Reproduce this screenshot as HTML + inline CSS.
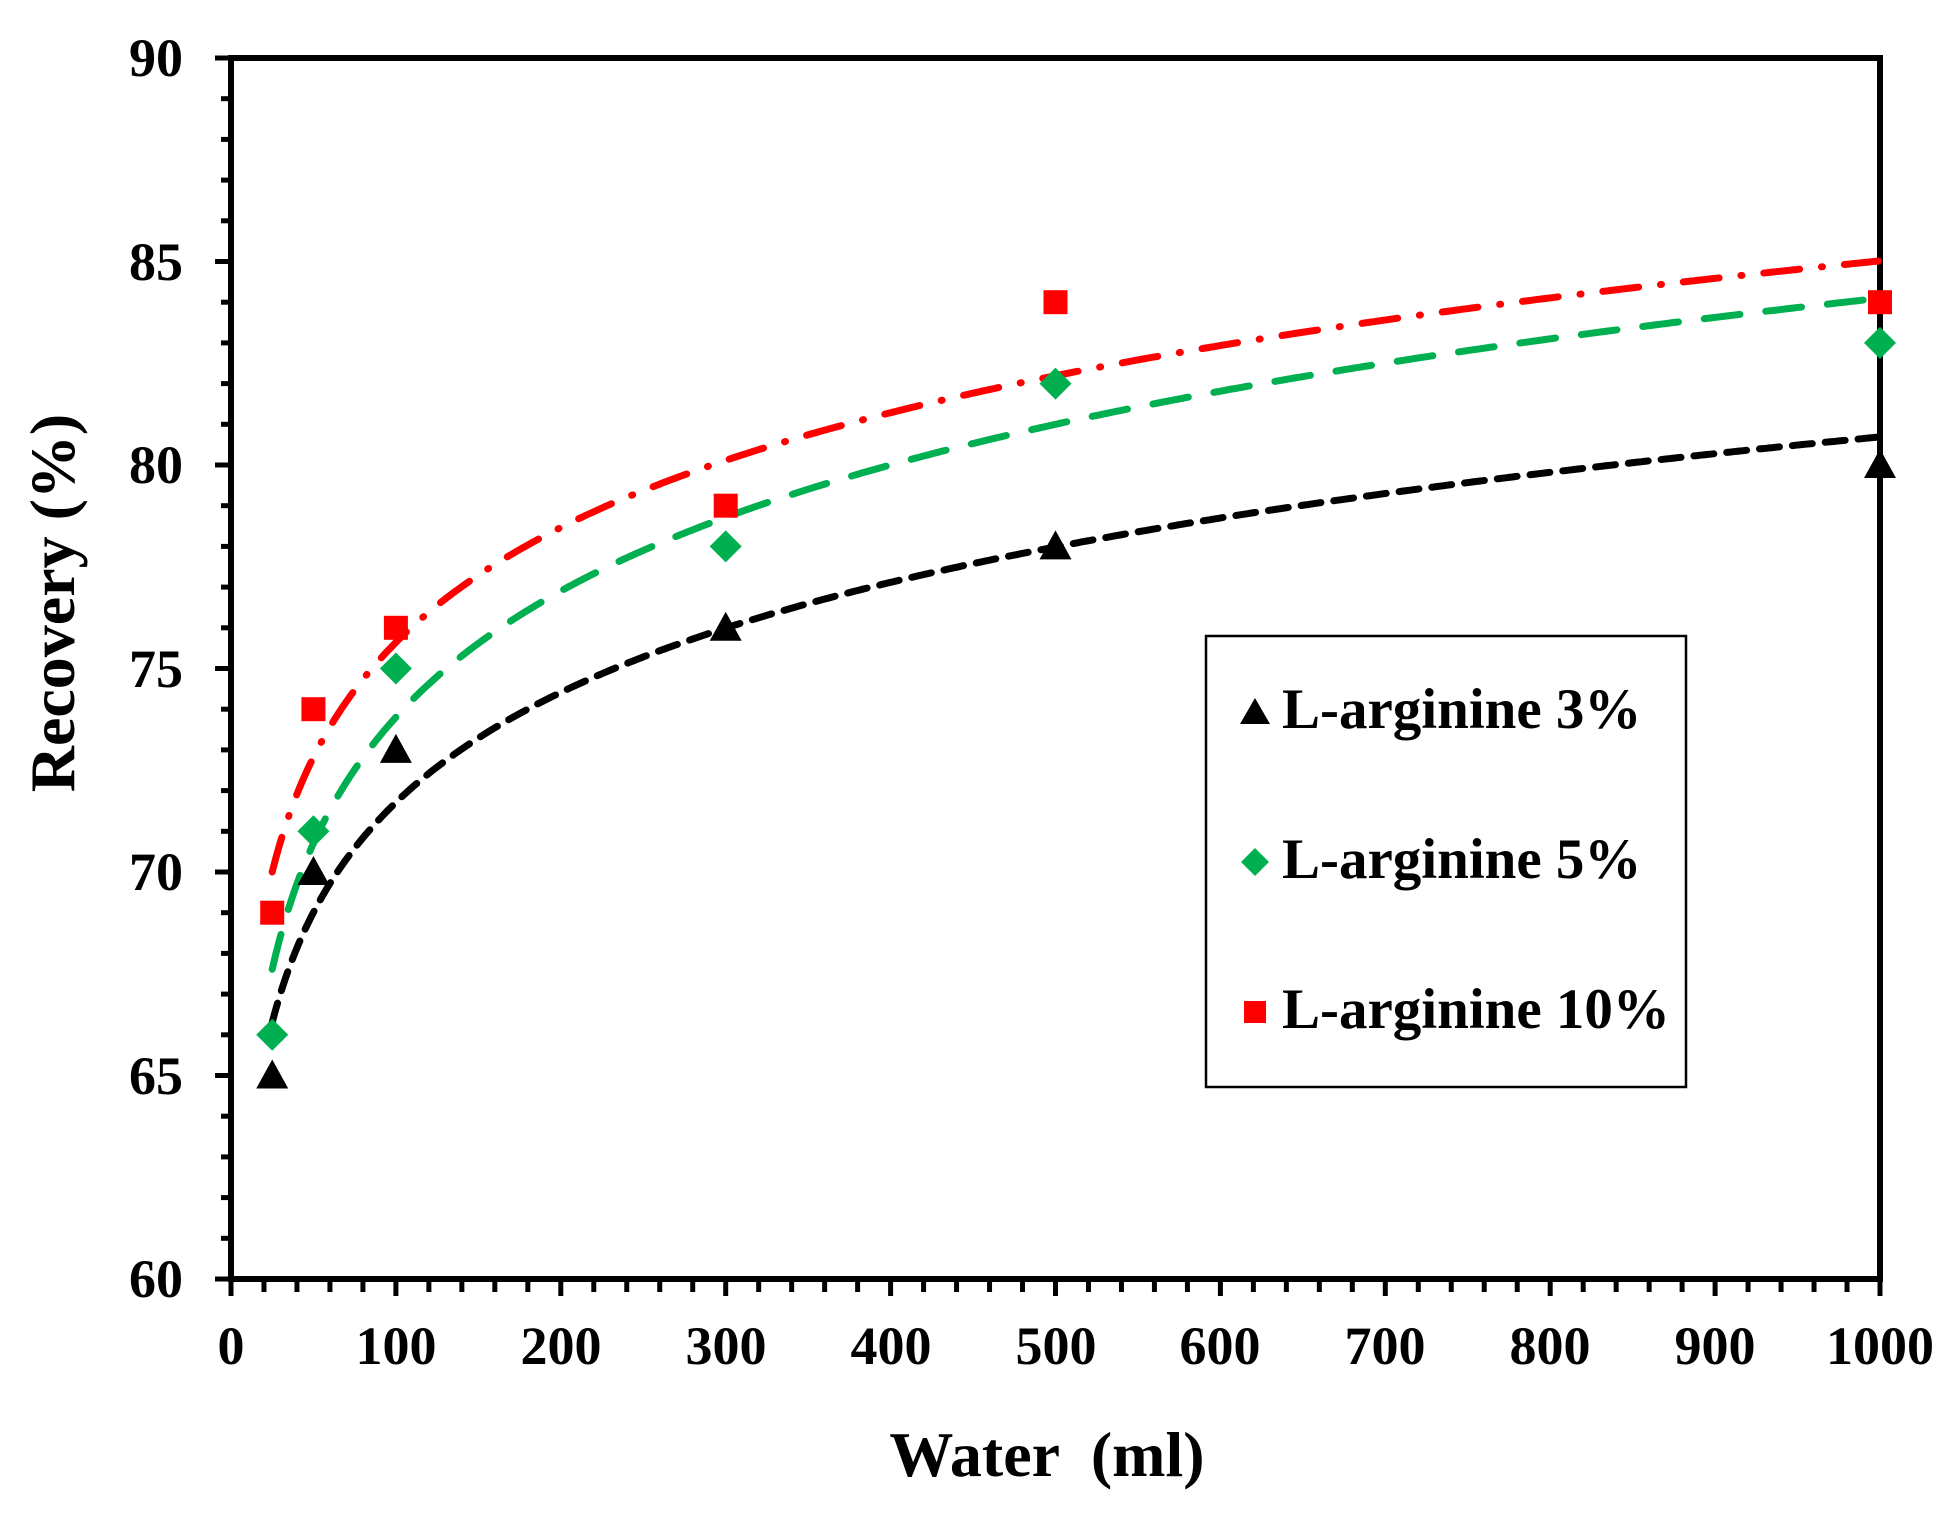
<!DOCTYPE html>
<html><head><meta charset="utf-8"><style>
html,body{margin:0;padding:0;background:#fff;}
svg{display:block;}
text{font-family:"Liberation Serif",serif;font-weight:bold;fill:#000;}
</style></head><body>
<svg id="s" width="1948" height="1521" viewBox="0 0 1948 1521" xmlns="http://www.w3.org/2000/svg">
<g id="ticks" stroke="#000" stroke-width="5"></g>
<rect x="231" y="58" width="1649" height="1221" fill="none" stroke="#000" stroke-width="6"/>
<g font-size="54" text-anchor="end">
<text x="183" y="76">90</text>
<text x="183" y="280">85</text>
<text x="183" y="483">80</text>
<text x="183" y="687">75</text>
<text x="183" y="890">70</text>
<text x="183" y="1094">65</text>
<text x="183" y="1297">60</text>
</g>
<g font-size="54" text-anchor="middle">
<text x="231" y="1364">0</text>
<text x="396" y="1364">100</text>
<text x="561" y="1364">200</text>
<text x="726" y="1364">300</text>
<text x="891" y="1364">400</text>
<text x="1056" y="1364">500</text>
<text x="1220" y="1364">600</text>
<text x="1385" y="1364">700</text>
<text x="1550" y="1364">800</text>
<text x="1715" y="1364">900</text>
<text x="1880" y="1364">1000</text>
</g>
<text x="1047" y="1476" font-size="64" text-anchor="middle" xml:space="preserve">Water  (ml)</text>
<text x="0" y="0" font-size="64" text-anchor="middle" transform="translate(74,603) rotate(-90)">Recovery (%)</text>
<path id="cb" fill="none" stroke="#000" stroke-width="7" stroke-dasharray="20 13" stroke-linecap="round"/>
<path id="cg" fill="none" stroke="#00b050" stroke-width="7" stroke-dasharray="36 26" stroke-linecap="round"/>
<path id="cr" fill="none" stroke="#ff0000" stroke-width="7" stroke-dasharray="36 22 1 22" stroke-linecap="round"/>
<g id="pts"></g>
<rect x="1206" y="636" width="480" height="451" fill="#fff" stroke="#000" stroke-width="2.5"/>
<polygon points="1255,698 1270,724 1240,724" fill="#000"/>
<text x="1282" y="728" font-size="57">L-arginine 3%</text>
<polygon points="1255,848 1269,862 1255,876 1241,862" fill="#00b050"/>
<text x="1282" y="878" font-size="57">L-arginine 5%</text>
<rect x="1244" y="1001" width="22" height="22" fill="#ff0000"/>
<text x="1282" y="1028" font-size="57">L-arginine 10%</text>
</svg>
<script>
var X=function(v){return 231+v*1.649}, Y=function(v){return 58+(90-v)*40.7};
var t='';
for(var v=60;v<=90;v++){var L=(v%5==0)?16:10;t+='<line x1="'+(231-L)+'" y1="'+Y(v)+'" x2="231" y2="'+Y(v)+'"/>';}
for(var m=0;m<=1000;m+=20){var L=(m%100==0)?17:13;t+='<line x1="'+X(m)+'" y1="1279" x2="'+X(m)+'" y2="'+(1279+L)+'"/>';}
document.getElementById('ticks').innerHTML=t;
function curve(id,a,b){var d='';for(var x=25;x<=1000;x+=2){d+=(x==25?'M':'L')+X(x).toFixed(1)+','+Y(a*Math.log(x)+b).toFixed(1);}document.getElementById(id).setAttribute('d',d);}
curve('cb',3.9,53.75);curve('cg',4.47,53.22);curve('cr',4.07,56.9);
var xs=[25,50,100,300,500,1000];
var bk=[65,70,73,76,78,80],gr=[66,71,75,78,82,83],rd=[69,74,76,79,84,84];
var p='';
for(var i=0;i<6;i++){
var x=X(xs[i]);
var y=Y(rd[i]);p+='<rect x="'+(x-12)+'" y="'+(y-12)+'" width="24" height="24" fill="#ff0000"/>';
y=Y(gr[i]);p+='<polygon points="'+x+','+(y-16)+' '+(x+16)+','+y+' '+x+','+(y+16)+' '+(x-16)+','+y+'" fill="#00b050"/>';
y=Y(bk[i]);p+='<polygon points="'+x+','+(y-16)+' '+(x+16)+','+(y+13)+' '+(x-16)+','+(y+13)+'" fill="#000"/>';
}
document.getElementById('pts').innerHTML=p;
</script>
</body></html>
